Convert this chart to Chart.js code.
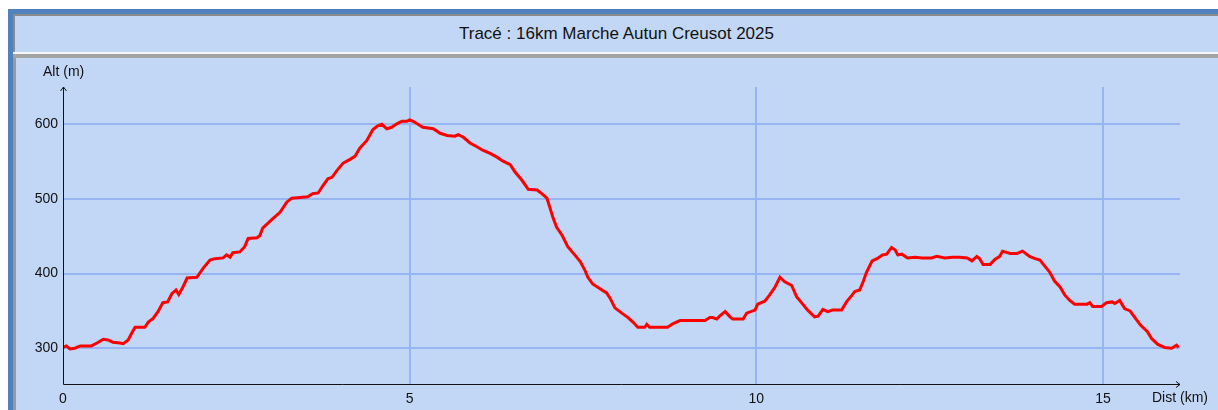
<!DOCTYPE html>
<html>
<head>
<meta charset="utf-8">
<script src="https://cdn.jsdelivr.net/npm/chart.js@4.4.1/dist/chart.umd.min.js"></script>
<style>
  html, body { margin: 0; padding: 0; background: #fff; }
  body { width: 1218px; height: 410px; position: relative; overflow: hidden; font-family: "Liberation Sans", Arial, sans-serif; }
  #frame { position: absolute; left: 8px; top: 9px; width: 1210px; height: 401px; background: #4f81bd; }
  #title { position: absolute; left: 13px; top: 14px; width: 1205px; height: 38px; background: #c2d7f5;
           border-left: 2px solid #8a8a8a; border-top: 2px solid #8a8a8a; box-sizing: border-box;
           text-align: center; font-size: 17px; line-height: 36px; color: #111; }
  #sep { position: absolute; left: 13px; top: 52px; width: 1205px; height: 2px; background: #f4f6fa; }
  #sep2 { position: absolute; left: 13px; top: 54px; width: 1205px; height: 4px; background: #a3a3a3; }
  #panel { position: absolute; left: 13px; top: 58px; width: 1205px; height: 352px; background: #c2d7f5;
           border-left: 3px solid #9a9a9a; box-sizing: border-box; }
  #wrap { position: absolute; left: 0; top: 0; width: 1218px; height: 410px; }
</style>
</head>
<body>
<div id="frame"></div>
<div id="title">Tracé : 16km Marche Autun Creusot 2025</div>
<div id="sep"></div>
<div id="sep2"></div>
<div id="panel"></div>
<div id="wrap"><canvas id="profile" width="1218" height="410"></canvas></div>
<script>
"use strict";

// distance (km) / altitude (m)
const distKm = [
  0.00, 0.05, 0.10, 0.17, 0.25, 0.41, 0.49, 0.58, 0.65, 0.72, 0.82, 0.87, 0.94, 0.99, 1.04, 1.18, 1.23, 1.30, 1.37, 1.44,
  1.51, 1.57, 1.63, 1.67, 1.73, 1.79, 1.93, 2.02, 2.12, 2.19, 2.31, 2.36, 2.41, 2.45, 2.55, 2.62, 2.67, 2.80, 2.84, 2.88,
  3.03, 3.13, 3.23, 3.30, 3.42, 3.53, 3.60, 3.68, 3.75, 3.82, 3.88, 3.95, 4.04, 4.14, 4.21, 4.28, 4.38, 4.47, 4.54, 4.60,
  4.67, 4.74, 4.82, 4.89, 4.96, 5.00, 5.05, 5.12, 5.19, 5.34, 5.44, 5.54, 5.65, 5.70, 5.77, 5.87, 5.97, 6.06, 6.16, 6.26,
  6.34, 6.45, 6.52, 6.62, 6.71, 6.84, 6.88, 6.98, 7.02, 7.07, 7.12, 7.20, 7.28, 7.38, 7.46, 7.53, 7.57, 7.64, 7.74, 7.84,
  7.89, 7.96, 8.06, 8.15, 8.22, 8.29, 8.39, 8.42, 8.46, 8.72, 8.80, 8.90, 9.26, 9.33, 9.37, 9.43, 9.47, 9.55, 9.62, 9.66,
  9.81, 9.86, 9.98, 10.02, 10.12, 10.19, 10.27, 10.34, 10.41, 10.51, 10.58, 10.66, 10.74, 10.84, 10.89, 10.96, 11.03, 11.10, 11.23, 11.30,
  11.38, 11.42, 11.49, 11.54, 11.59, 11.67, 11.74, 11.82, 11.88, 11.95, 12.00, 12.04, 12.10, 12.18, 12.29, 12.39, 12.53, 12.60, 12.72, 12.83,
  12.93, 13.04, 13.11, 13.18, 13.22, 13.27, 13.37, 13.44, 13.51, 13.55, 13.66, 13.76, 13.84, 13.94, 14.02, 14.09, 14.16, 14.23, 14.30, 14.38,
  14.45, 14.52, 14.59, 14.77, 14.81, 14.85, 14.98, 15.05, 15.13, 15.17, 15.24, 15.31, 15.39, 15.46, 15.54, 15.64, 15.70, 15.79, 15.89, 15.99,
  16.06, 16.09
];
const altM = [
  301, 303, 299, 300, 303, 303, 307, 312, 311, 308, 307, 306, 311, 320, 328, 328, 335, 340, 349, 361,
  362, 373, 378, 372, 382, 394, 395, 407, 418, 420, 421, 425, 422, 428, 429, 436, 447, 448, 451, 461,
  474, 482, 496, 501, 502, 503, 507, 508, 518, 527, 529, 538, 548, 553, 557, 568, 578, 593, 598, 600,
  594, 596, 601, 604, 604, 606, 604, 600, 596, 594, 588, 585, 584, 586, 583, 575, 570, 565, 561, 556,
  551, 546, 536, 525, 513, 512, 509, 501, 489, 474, 462, 451, 436, 425, 416, 404, 395, 386, 380, 374,
  367, 354, 347, 341, 335, 328, 328, 332, 328, 328, 333, 337, 337, 341, 341, 339, 343, 349, 342, 339,
  339, 347, 351, 359, 363, 371, 382, 395, 389, 384, 369, 360, 351, 342, 343, 352, 349, 351, 351, 362,
  371, 376, 378, 389, 402, 417, 420, 425, 426, 435, 432, 425, 426, 421, 422, 421, 421, 423, 421, 422,
  422, 421, 417, 423, 420, 412, 412, 419, 423, 430, 427, 427, 430, 423, 420, 418, 410, 402, 390, 382,
  371, 364, 359, 359, 361, 356, 356, 361, 362, 360, 364, 353, 350, 341, 331, 322, 313, 305, 301, 300,
  304, 301
];
const xTicks = [0, 5, 10, 15];
const yTicks = [300, 400, 500, 600];

const labelFont = { family: "'Liberation Sans', Arial, sans-serif", size: 14 };

// axes with arrows + axis captions
const axisArrows = {
  id: 'axisArrows',
  afterDraw(chart) {
    const ctx = chart.ctx;
    const a = chart.chartArea;
    const x0 = Math.round(a.left) + 0.5;
    const y0 = Math.round(a.bottom) + 0.5;
    ctx.save();
    ctx.strokeStyle = '#111';
    ctx.lineWidth = 1;
    ctx.beginPath();
    ctx.moveTo(x0, y0);
    ctx.lineTo(x0, a.top);
    ctx.moveTo(x0, y0);
    ctx.lineTo(a.right, y0);
    // arrow heads
    ctx.moveTo(x0 - 3, a.top + 4);
    ctx.lineTo(x0, a.top);
    ctx.lineTo(x0 + 3, a.top + 4);
    ctx.moveTo(a.right - 4, y0 - 3);
    ctx.lineTo(a.right, y0);
    ctx.lineTo(a.right - 4, y0 + 3);
    ctx.stroke();
    ctx.fillStyle = '#111';
    ctx.font = labelFont.size + 'px ' + labelFont.family;
    ctx.textBaseline = 'middle';
    ctx.textAlign = 'left';
    ctx.fillText('Alt (m)', a.left - 20, a.top - 15);
    ctx.fillText('Dist (km)', a.right - 28, y0 + 14);
    ctx.restore();
  }
};

var profileCtx = document.getElementById('profile').getContext('2d');
var profileChart = new Chart(profileCtx, {
  type: 'line',
  data: {
    datasets: [{
      label: 'Altitude',
      data: distKm.map((d, i) => ({ x: d, y: altM[i] })),
      borderColor: '#ff0000',
      borderWidth: 3,
      pointRadius: 0,
      tension: 0,
      fill: false
    }]
  },
  options: {
    responsive: false,
    animation: false,
    events: [],
    layout: { padding: { left: 0, top: 87, right: 38, bottom: 0 } },
    plugins: {
      legend: { display: false },
      tooltip: { enabled: false }
    },
    scales: {
      x: {
        type: 'linear',
        min: 0,
        max: 16.11,
        afterBuildTicks: (s) => { s.ticks = xTicks.map(v => ({ value: v })); },
        afterFit: (s) => { s.height = 26; },
        grid: {
          color: (c) => (c.tick && c.tick.value === 0 ? 'rgba(0,0,0,0)' : '#98b5f3'),
          lineWidth: 2,
          drawTicks: false
        },
        border: { display: false },
        ticks: { color: '#111', font: labelFont, padding: 7, maxRotation: 0 }
      },
      y: {
        type: 'linear',
        min: 252,
        max: 650,
        afterBuildTicks: (s) => { s.ticks = yTicks.map(v => ({ value: v })); },
        afterFit: (s) => { s.width = 63; },
        grid: { color: '#98b5f3', lineWidth: 2, drawTicks: false },
        border: { display: false },
        ticks: { color: '#111', font: labelFont, padding: 5 }
      }
    }
  },
  plugins: [axisArrows]
});
</script>
</body>
</html>
